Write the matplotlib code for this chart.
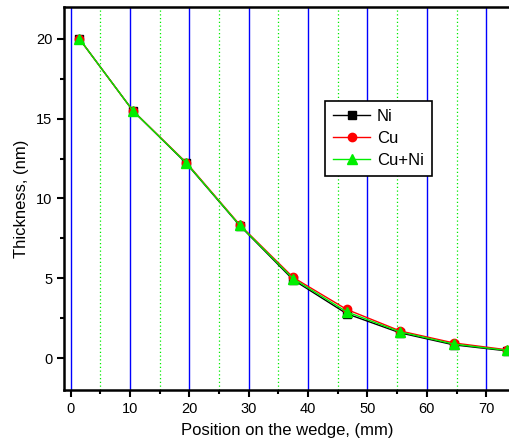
import matplotlib
matplotlib.use("Agg")
import matplotlib.pyplot as plt
from matplotlib.ticker import MultipleLocator

plt.rcParams['font.family'] = ['Liberation Sans', 'DejaVu Sans']

position = [1.5, 10.5, 19.5, 28.5, 37.5, 46.5, 55.5, 64.5, 73.5]
ni = [20.0, 15.5, 12.2, 8.3, 4.9, 2.78, 1.58, 0.83, 0.45]
cu = [20.0, 15.5, 12.25, 8.35, 5.05, 3.05, 1.7, 0.95, 0.52]
cuni = [20.0, 15.5, 12.22, 8.32, 4.97, 2.9, 1.64, 0.88, 0.48]

fig = plt.figure(figsize=(5.09, 4.48), dpi=100)
ax = fig.add_axes([64/509, 1-390/448, 1-64/509+0.002, (390-7)/448])

ax.plot(position, ni, color='black', marker='s', ms=5.5, lw=1, label='Ni', zorder=3)
ax.plot(position, cu, color='red', marker='o', ms=6, lw=1, label='Cu', zorder=4)
ax.plot(position, cuni, color='#00ee00', marker='^', ms=7, lw=1, label='Cu+Ni', zorder=5)

ax.set_xlim(-1.1, 74.0)
ax.set_ylim(-2, 22)
ax.xaxis.set_major_locator(MultipleLocator(10))
ax.xaxis.set_minor_locator(MultipleLocator(5))
ax.yaxis.set_major_locator(MultipleLocator(5))
ax.yaxis.set_minor_locator(MultipleLocator(2.5))

ax.grid(True, which='major', axis='x', color='blue', lw=1, ls='-')
ax.grid(True, which='minor', axis='x', color='#00ee00', lw=0.9, ls=(0, (1, 2)))
ax.set_axisbelow(True)

ax.tick_params(which='both', direction='out', labelsize=10.5, width=1.5, top=False, right=False)
ax.tick_params(which='major', length=5)
ax.tick_params(which='minor', length=3)
for s in ax.spines.values():
    s.set_linewidth(1.8)

ax.set_xlabel('Position on the wedge, (mm)', fontsize=12, labelpad=5)
ax.set_ylabel('Thickness, (nm)', fontsize=12, labelpad=5)

leg = ax.legend(loc='upper left', bbox_to_anchor=((325-64)/445.8, 1-(101-7)/383), fontsize=12,
                frameon=True, fancybox=False, edgecolor='black', borderpad=0.5,
                handlelength=2.2, labelspacing=0.4, handletextpad=0.4, borderaxespad=0)
leg.get_frame().set_linewidth(1.2)
leg.get_frame().set_alpha(1)

fig.savefig('out.png', dpi=100)
